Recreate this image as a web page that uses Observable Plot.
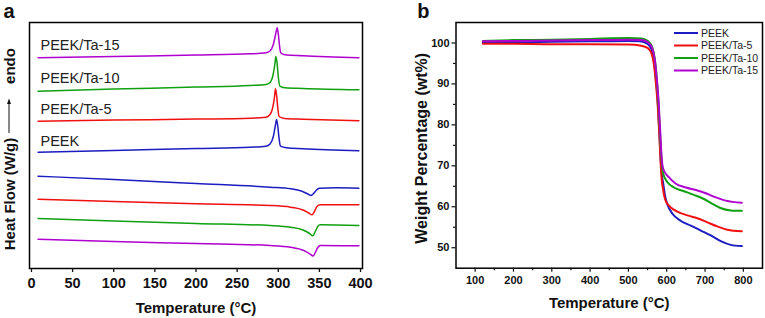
<!DOCTYPE html>
<html><head><meta charset="utf-8">
<script src="https://cdn.jsdelivr.net/npm/d3@7"></script>
<script src="https://cdn.jsdelivr.net/npm/@observablehq/plot@0.6"></script>
<style>
body{margin:0;background:#fff;}
#wrap{display:flex;width:765px;height:318px;overflow:hidden;}
</style></head><body><div id="wrap"></div>
<script>
const FONT = "Liberation Sans, Arial, Helvetica, sans-serif";
const seriesNames = ["PEEK", "PEEK/Ta-5", "PEEK/Ta-10", "PEEK/Ta-15"];
const seriesColors = ["#1c1cc0", "#f01010", "#10a010", "#b000d0"];

// ---- Panel a: DSC (heat flow, arbitrary offset units) ----
const dscHeatPEEK = [[8,11.63],[100,11.81],[200,12.00],[266,12.13],[285,12.23],[290,12.45],[294,13.2],[296.7,14.4],[297.9,14.9],[299.3,14.3],[301,13.0],[302.7,12.23],[310,12.07],[330,11.97],[398,11.77]];
const dscHeatTa5  = [[8,14.73],[100,14.84],[200,14.94],[266,15.03],[285,15.13],[289.5,15.35],[293,16.0],[295.5,17.2],[296.6,17.97],[298,17.3],[299.5,16.0],[301,15.2],[308,15.0],[330,14.93],[398,14.77]];
const dscHeatTa10 = [[8,17.73],[100,17.94],[200,18.14],[266,18.3],[285,18.4],[290,18.6],[293.5,19.3],[296,20.5],[297,21.2],[298.5,20.6],[300,19.2],[302,18.23],[308,18.07],[330,18.0],[398,17.87]];
const dscHeatTa15 = [[8,21.07],[100,21.21],[200,21.34],[266,21.47],[285,21.57],[290,21.75],[294,22.4],[297,23.5],[298.7,24.07],[300,23.5],[301.5,22.3],[303,21.57],[308,21.37],[330,21.27],[398,21.07]];
const dscCoolPEEK = [[8,9.23],[100,8.9],[200,8.5],[290,8.13],[315,7.97],[328,7.75],[336,7.45],[340,7.3],[343,7.5],[346,7.8],[350,8.03],[370,8.07],[398,8.03]];
const dscCoolTa5  = [[8,6.93],[100,6.7],[200,6.48],[290,6.3],[315,6.13],[330,5.85],[337,5.55],[341,5.37],[344,5.7],[347,6.2],[351,6.37],[398,6.37]];
const dscCoolTa10 = [[8,5.0],[100,4.75],[200,4.5],[290,4.3],[315,4.13],[330,3.85],[338,3.5],[342,3.27],[345,3.7],[348,4.2],[351,4.37],[398,4.3]];
const dscCoolTa15 = [[8,2.93],[100,2.7],[200,2.5],[290,2.3],[315,2.13],[331,1.8],[338,1.48],[342.5,1.25],[345,1.6],[348,2.1],[351,2.3],[398,2.27]];
const dscTicks = [0, 50, 100, 150, 200, 250, 300, 350, 400];
const dscLabelT = [11, 11, 11, 11];
const dscLabelHF = [12.7, 15.9, 19.0, 22.3];

// ---- Panel b: TGA ----
const tgaPEEK = [[120,100.2],[200,100.2],[300,100.3],[400,100.4],[500,100.5],[530,100.4],[550,99.8],[560,98.5],[567,95.5],[572,91],[577,85],[581,78],[584,72],[587,68],[591,65.6],[596,62.5],[602,60.5],[615,58.3],[636,56.6],[663,55.4],[689,54.2],[715,53],[741,51.6],[767,50.7],[796,50.4]];
const tgaTa5  = [[120,99.8],[200,99.8],[300,99.7],[400,99.7],[500,99.6],[530,99.4],[550,98.8],[560,97.5],[567,94.5],[572,90],[577,84],[581,77],[584,71],[587,66.5],[590,64.5],[597,61.5],[610,59.9],[628,58.8],[654,57.9],[680,57.2],[706,56.2],[732,55.2],[758,54.4],[796,54.0]];
const tgaTa10 = [[120,100.5],[200,100.7],[300,100.8],[400,101],[500,101.2],[535,101.1],[552,100.4],[562,99],[569,96],[574,91.5],[578,86],[582,79],[585,73.5],[588,70],[591,68],[602,66],[619,64.7],[645,63.8],[671,62.9],[697,61.9],[719,60.7],[740,59.7],[767,59.1],[796,59.0]];
const tgaTa15 = [[120,100.4],[200,100.5],[300,100.6],[400,100.7],[500,100.8],[535,100.7],[552,100.1],[562,98.8],[569,95.8],[574,91.3],[579,85.5],[583,78.5],[586,73],[589,70],[593,68.8],[606,67.2],[623,65.7],[650,64.7],[676,64.1],[702,63.3],[728,62.3],[754,61.5],[796,61.0]];
const tgaXTicks = [100, 200, 300, 400, 500, 600, 700, 800];
const tgaXMinor = [150, 250, 350, 450, 550, 650, 750];
const tgaYTicks = [50, 60, 70, 80, 90, 100];
const tgaYMinor = [55, 65, 75, 85, 95];

// build tables
const dscRows = [];
[dscHeatPEEK, dscHeatTa5, dscHeatTa10, dscHeatTa15].forEach((arr, i) =>
  arr.forEach(([T, hf]) => dscRows.push({series: seriesNames[i], run: "heat", T, hf})));
[dscCoolPEEK, dscCoolTa5, dscCoolTa10, dscCoolTa15].forEach((arr, i) =>
  arr.forEach(([T, hf]) => dscRows.push({series: seriesNames[i], run: "cool", T, hf})));
const dscLabels = seriesNames.map((s, i) => ({s, T: dscLabelT[i], hf: dscLabelHF[i]}));

const tgaRows = [];
[tgaPEEK, tgaTa5, tgaTa10, tgaTa15].forEach((arr, i) =>
  arr.forEach(([T, w]) => tgaRows.push({series: seriesNames[i], T, w})));

const color = {domain: seriesNames, range: seriesColors};
const baseStyle = {fontFamily: FONT, color: "#111", background: "white", overflow: "visible"};

const plotA = Plot.plot({
  width: 400, height: 318,
  marginLeft: 29, marginRight: 38, marginTop: 22, marginBottom: 50,
  style: baseStyle,
  x: {domain: [-2.4, 402.4]},
  y: {domain: [0, 24.6], axis: null},
  color,
  marks: [
    Plot.line(dscRows, {x: "T", y: "hf", z: d => d.series + d.run, stroke: "series", strokeWidth: 1.5, curve: "monotone-x"}),
    Plot.text(dscLabels, {x: "T", y: "hf", text: "s", textAnchor: "start", fontSize: 14.5, fill: "#222"}),
    Plot.frame({stroke: "#000", strokeWidth: 1.5}),
    Plot.axisX({ticks: dscTicks, tickSize: 4, tickPadding: 5, fontSize: 14.5, fontWeight: "bold", label: null, strokeWidth: 1.3}),
    Plot.text(["Temperature (°C)"], {frameAnchor: "bottom", dy: 44, lineAnchor: "bottom", fontSize: 15, fontWeight: "bold"}),
    Plot.text(["a"], {frameAnchor: "top-left", textAnchor: "start", lineAnchor: "bottom", dx: -26, dy: -5, fontSize: 20, fontWeight: "bold"})
  ]
});

const plotB = Plot.plot({
  width: 365, height: 318,
  marginLeft: 55.5, marginRight: 3, marginTop: 22, marginBottom: 50.3,
  style: baseStyle,
  x: {domain: [50, 850]},
  y: {domain: [45, 105]},
  color,
  marks: [
    Plot.line(tgaRows, {x: "T", y: "w", z: "series", stroke: "series", strokeWidth: 2, curve: "monotone-x"}),
    Plot.frame({stroke: "#000", strokeWidth: 1.5}),
    Plot.axisX({ticks: tgaXTicks, tickSize: 4, tickPadding: 4, fontSize: 11, fontWeight: "bold", label: null, strokeWidth: 1.2}),
    Plot.axisX({ticks: tgaXMinor, tickSize: 2.5, text: null, label: null, strokeWidth: 1.2}),
    Plot.axisY({ticks: tgaYTicks, tickSize: 4, tickPadding: 2.5, fontSize: 11, fontWeight: "bold", label: null, strokeWidth: 1.2}),
    Plot.axisY({ticks: tgaYMinor, tickSize: 2.5, text: null, label: null, strokeWidth: 1.2}),
    Plot.text(["Temperature (°C)"], {frameAnchor: "bottom", dy: 40, lineAnchor: "bottom", fontSize: 15, fontWeight: "bold"}),
    Plot.text(["Weight Percentage (wt%)"], {frameAnchor: "left", rotate: -90, textAnchor: "middle", dx: -29.5, dy: 3, lineAnchor: "bottom", fontSize: 16, fontWeight: "bold"}),
    Plot.text(["b"], {frameAnchor: "top-left", textAnchor: "start", lineAnchor: "bottom", dx: -38.8, dy: -5, fontSize: 20, fontWeight: "bold"})
  ]
});

// Panel a y-axis title: "Heat Flow (W/g) ⟶ endo"
{
  const g = d3.select(plotA).append("g")
    .attr("font-family", FONT).attr("font-weight", "bold").attr("font-size", 15).attr("fill", "#111");
  g.append("text").attr("transform", "translate(14.5,194) rotate(-90)").attr("text-anchor", "middle").text("Heat Flow (W/g)");
  g.append("text").attr("transform", "translate(14.5,66) rotate(-90)").attr("text-anchor", "middle").text("endo");
  g.append("line").attr("x1", 9).attr("x2", 9).attr("y1", 133).attr("y2", 102).attr("stroke", "#111").attr("stroke-width", 1);
  g.append("path").attr("d", "M9,98.5 L7,104 L11,104 Z").attr("fill", "#111");
}

// Panel b legend (top-right, inside frame)
{
  const g = d3.select(plotB).append("g")
    .attr("font-family", FONT).attr("font-size", 10.5).attr("fill", "#222").attr("text-anchor", "start");
  seriesNames.forEach((s, i) => {
    const y = 33 + i * 12.5;
    g.append("line").attr("x1", 274).attr("x2", 298).attr("y1", y).attr("y2", y)
      .attr("stroke", seriesColors[i]).attr("stroke-width", 2);
    g.append("text").attr("x", 301).attr("y", y).attr("dy", "0.35em").attr("text-anchor", "start").text(s);
  });
}

document.getElementById("wrap").append(plotA, plotB);
</script>
</body></html>
